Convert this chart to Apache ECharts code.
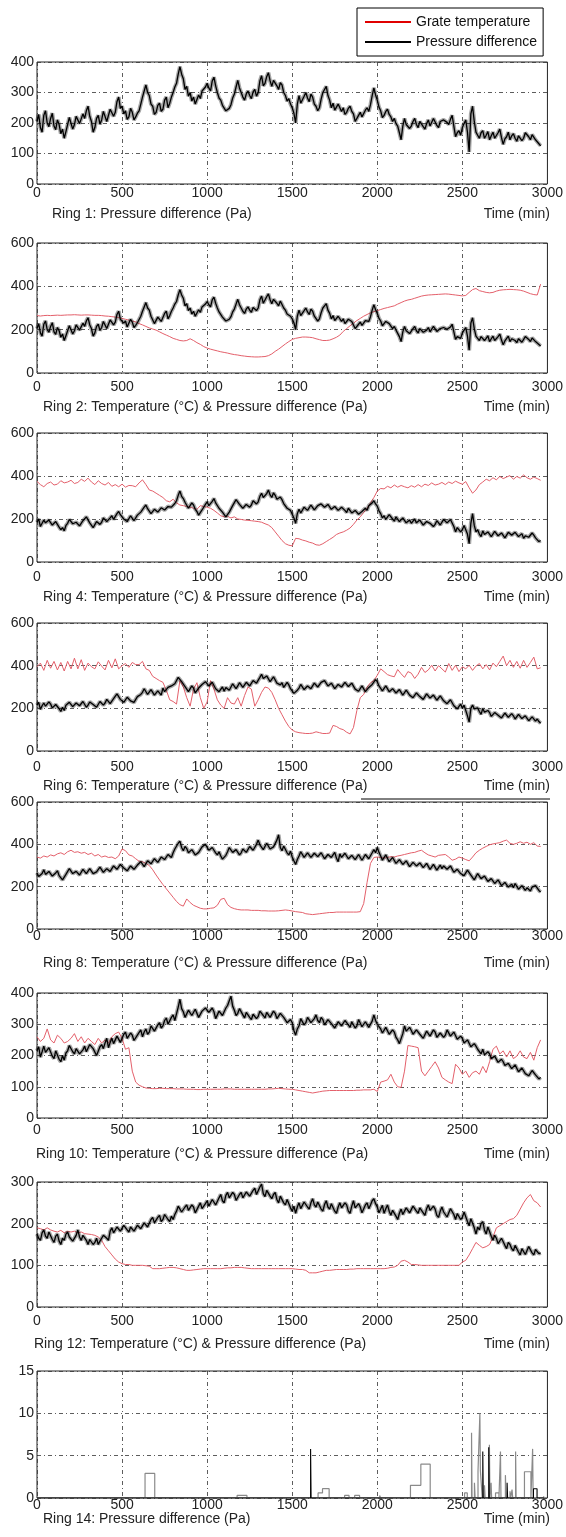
<!DOCTYPE html>
<html>
<head>
<meta charset="utf-8">
<script src="https://cdn.jsdelivr.net/npm/echarts/dist/echarts.min.js"></script>
<style>
html,body{margin:0;padding:0;background:#fff;}
#main{width:566px;height:1537px;}
</style>
</head>
<body>
<div id="main"></div>
<script>
// sampling steps of the read curves (min)
var PRESS_STEP = 10;
var TEMP_STEP = 20;
var xTicks = [0, 500, 1000, 1500, 2000, 2500, 3000];

// Ring 1 pressure difference (Pa), every 10 min
var ring1Press = [
  205,228,185,170,225,240,200,188,215,232,190,178,210,195,165,180,150,172,195,218,
  215,180,195,222,225,198,200,230,215,240,255,222,205,170,185,215,225,196,210,238,
  235,205,210,245,250,222,235,270,285,248,255,230,240,212,220,248,235,210,220,232,
  240,262,285,305,325,300,290,262,255,228,235,258,265,238,245,275,285,250,265,285,
  300,318,330,360,385,360,345,310,320,288,300,272,285,262,260,292,280,305,300,318,
  330,315,305,338,350,322,300,282,275,258,255,240,235,248,260,282,295,318,340,315,
  300,285,275,295,305,290,280,302,310,288,300,338,355,322,330,352,365,338,320,340,
  345,322,310,332,325,300,290,272,280,262,250,232,200,262,290,265,270,288,300,282,
  270,295,285,262,255,240,250,278,300,310,320,290,275,250,265,242,240,262,260,238,
  250,228,235,248,255,238,230,205,210,225,235,220,225,242,250,238,260,290,315,292,
  275,252,240,218,225,238,245,228,220,205,215,198,190,168,145,190,215,195,200,182,
  190,205,215,195,185,205,200,188,180,198,210,190,195,215,210,192,185,205,200,210,
  215,202,195,212,225,190,155,168,175,160,185,198,210,170,105,230,255,205,170,160,
  150,168,175,150,160,172,145,158,170,150,155,168,180,152,130,148,155,170,145,158,
  165,150,140,158,160,142,150,168,170,155,145,162,160,145,140,132,125
];
// Ring 2 pressure difference looks the same as ring 1
var ring2Press = ring1Press;
var ring4Press = [
  185,200,165,180,195,182,175,195,190,172,170,188,185,162,150,160,145,170,180,198,
  195,178,170,185,190,168,175,192,195,210,205,182,175,160,165,188,195,175,185,205,
  200,188,180,205,215,198,200,225,235,220,215,200,205,188,195,215,210,192,200,218,
  210,232,240,255,265,248,245,225,230,245,250,232,235,252,260,242,240,258,265,255,
  250,272,285,310,330,305,295,278,270,250,255,275,265,245,235,218,225,242,250,268,
  280,262,260,282,295,275,270,250,245,232,225,210,215,232,240,262,270,290,285,268,
  260,250,245,268,275,255,265,285,290,270,280,305,320,300,295,318,335,312,300,322,
  310,292,285,302,290,272,265,250,255,240,235,205,180,225,245,228,235,255,260,240,
  245,265,260,242,240,262,255,270,275,255,250,268,265,245,240,258,255,240,235,255,
  250,240,230,250,245,228,220,240,235,222,215,235,230,250,240,262,255,275,285,270,
  260,238,225,205,215,198,200,220,215,200,190,210,205,188,180,205,200,182,190,195,
  180,190,200,182,175,195,190,172,170,188,195,180,180,165,175,192,190,172,180,198,
  195,182,180,198,190,165,140,160,155,140,150,170,165,130,85,180,225,170,140,150,
  130,118,145,128,120,140,135,118,125,142,140,122,115,135,130,112,120,138,140,125,
  120,138,135,118,125,132,110,122,130,115,120,135,125,112,110,95,100
];
var ring6Press = [
  215,228,195,212,225,210,205,230,220,202,200,218,225,198,185,205,190,215,210,228,
  225,208,205,225,230,212,210,232,225,205,215,230,235,218,220,205,210,232,230,215,
  225,242,240,222,225,245,250,268,265,242,245,228,235,252,255,235,240,228,235,255,
  250,265,275,292,290,265,270,288,285,262,265,282,280,262,295,278,275,298,290,305,
  300,315,320,345,350,325,320,302,300,278,285,305,295,272,275,295,290,312,305,325,
  320,305,300,322,315,292,295,278,285,300,280,298,300,285,290,315,310,292,305,320,
  315,298,300,322,320,305,310,330,335,318,325,345,360,340,335,352,345,325,330,348,
  340,318,325,310,320,298,305,322,310,292,290,270,265,285,295,312,305,288,290,305,
  310,292,300,318,320,300,305,322,315,330,325,305,300,318,310,292,295,312,315,300,
  305,322,320,302,300,318,310,290,295,280,285,305,300,278,280,298,290,312,320,335,
  325,305,300,282,285,305,300,278,275,292,290,272,270,288,285,262,265,285,280,262,
  270,250,255,272,275,255,260,242,250,268,265,248,245,262,260,238,240,258,250,235,
  240,222,225,240,235,212,215,198,205,220,200,215,210,165,135,200,215,198,190,202,
  185,172,200,182,175,190,180,162,165,180,185,168,170,155,160,178,175,158,160,175,
  165,150,155,172,170,152,150,165,160,142,145,160,155,140,150,138,130
];
var ring8Press = [
  265,248,240,262,280,258,250,272,270,250,245,265,275,252,250,232,235,258,265,285,
  280,262,255,272,275,255,260,282,285,262,265,285,280,262,255,270,275,292,285,268,
  270,285,290,272,275,298,300,282,285,305,310,288,290,275,280,298,300,282,285,302,
  295,318,310,295,300,322,325,308,315,332,335,315,320,340,345,328,330,352,350,338,
  360,378,385,405,415,385,370,390,380,360,355,375,370,350,345,362,365,388,380,400,
  395,372,365,385,380,360,350,365,345,330,325,348,365,385,380,362,355,375,370,350,
  360,378,385,362,370,390,395,372,375,400,420,398,395,375,380,405,400,378,370,388,
  395,420,445,385,370,392,385,360,350,368,340,322,305,328,345,365,360,338,340,360,
  355,338,335,358,365,342,340,360,355,332,330,352,360,338,345,362,335,318,355,338,
  340,358,360,332,325,348,350,328,335,352,345,325,330,352,350,332,340,360,375,360,
  385,362,345,325,330,350,345,318,320,338,330,310,305,328,330,305,300,322,315,295,
  300,315,320,298,290,312,310,290,295,310,305,282,285,305,300,278,290,302,285,298,
  300,282,280,298,290,268,265,282,285,262,270,252,255,278,275,255,250,232,240,262,
  255,238,230,250,245,225,220,238,235,215,210,232,225,205,200,220,215,198,205,212,
  195,215,210,188,185,205,200,182,195,188,180,198,190,205,200,182,175
];
var ring10Press = [
  215,228,195,212,230,210,205,225,220,198,190,215,210,188,180,200,185,208,215,232,
  235,212,205,222,225,205,200,218,230,212,215,235,240,222,220,200,205,228,235,222,
  240,255,225,242,255,238,240,262,260,242,245,268,275,255,255,272,265,248,250,265,
  270,282,260,275,285,268,275,295,295,278,280,298,305,288,295,312,320,300,305,322,
  330,312,310,355,380,350,340,322,325,345,350,328,330,348,345,322,320,342,340,352,
  355,338,335,352,340,318,320,342,345,328,330,352,360,375,390,358,345,328,335,350,
  345,330,320,338,340,322,315,332,335,318,325,342,345,328,320,338,340,322,325,342,
  335,318,315,335,340,322,325,305,300,315,305,280,265,285,295,318,315,298,305,322,
  320,305,300,318,330,312,305,322,315,298,295,315,320,302,305,288,290,308,310,295,
  300,312,315,298,290,308,305,288,295,315,310,292,290,308,305,290,285,310,330,312,
  300,292,285,272,270,290,285,268,265,282,275,258,250,238,240,270,295,278,275,290,
  280,268,265,282,285,268,270,255,260,278,280,262,265,282,275,258,255,272,270,258,
  265,282,280,262,260,275,270,252,250,262,255,240,235,250,245,228,225,238,230,220,
  215,205,220,202,200,212,205,190,185,198,195,178,175,188,180,168,165,175,170,158,
  160,170,165,148,150,160,155,142,145,135,140,152,150,138,135,125,130
];
var ring12Press = [
  175,165,160,178,185,170,165,180,180,162,155,170,175,158,150,165,160,175,180,168,
  170,158,155,172,185,168,160,172,175,160,150,162,165,150,155,165,150,158,165,172,
  175,165,160,182,190,178,180,192,195,182,185,196,200,185,180,192,195,182,185,196,
  200,188,190,202,205,192,195,210,215,202,200,215,220,205,210,222,225,210,205,218,
  210,222,230,242,240,228,225,240,245,232,230,245,240,226,225,242,250,236,235,248,
  255,242,240,258,260,245,245,262,270,255,250,268,275,262,260,275,270,256,255,270,
  275,262,260,276,280,266,265,280,285,270,270,288,295,272,265,280,280,266,260,270,
  275,258,250,266,265,250,245,258,255,238,230,242,225,240,250,236,240,252,255,240,
  235,250,260,245,240,252,250,235,230,246,255,240,235,248,245,230,225,240,250,238,
  235,250,245,230,225,242,255,238,235,248,240,226,230,245,250,236,245,255,260,248,
  240,226,230,244,225,236,245,230,220,232,235,218,210,225,235,222,225,238,240,226,
  230,242,245,230,225,238,240,226,220,236,245,232,230,242,235,220,215,230,240,228,
  230,216,220,236,240,222,210,224,225,210,215,228,225,205,195,212,210,190,175,192,
  185,200,205,185,175,192,190,170,160,172,165,152,150,165,165,148,140,155,150,140,
  135,148,150,132,125,140,140,126,130,145,145,130,125,138,140,128,130
];

// grate temperature (degC), every 20 min
var ring2Temp = [
  265,263,265,266,265,266,267,266,267,268,
  268,269,268,267,268,268,267,266,266,265,
  263,262,260,258,256,252,248,244,240,236,
  228,222,215,208,203,198,190,182,175,168,
  160,155,150,148,150,158,150,140,132,122,
  115,110,106,102,98,95,92,88,85,83,
  80,78,76,75,74,74,75,76,80,88,
  100,110,122,134,145,155,160,163,166,166,
  165,163,158,154,150,150,152,158,165,175,
  192,205,218,230,242,252,262,270,278,283,
  288,293,298,302,306,310,318,325,332,337,
  340,345,350,355,358,360,361,362,363,364,
  365,364,362,360,358,356,358,372,385,390,
  380,376,372,370,372,378,382,384,385,386,
  385,384,382,378,372,366,362,360,410
];
var ring4Temp = [
  375,360,350,365,372,358,362,378,368,372,
  380,365,370,385,375,390,372,360,378,365,
  358,370,352,360,350,362,348,356,355,350,
  368,382,360,335,330,320,310,300,285,280,
  292,275,265,262,258,255,250,245,262,258,
  255,250,240,228,215,210,212,205,210,200,
  198,195,194,192,190,188,185,178,172,160,
  140,120,100,85,78,75,110,108,102,98,
  92,88,80,78,85,95,105,115,128,135,
  140,148,158,175,195,210,230,250,275,300,
  330,342,340,352,345,358,348,356,350,345,
  355,348,360,350,362,356,368,358,362,370,
  360,372,365,376,368,362,374,345,320,335,
  360,372,385,378,392,382,398,388,395,402,
  385,398,390,405,392,385,395,388,380
];
var ring6Temp = [
  395,412,378,425,388,420,380,415,375,420,
  385,435,385,428,378,412,395,385,418,398,
  380,425,390,432,385,400,410,392,415,405,
  405,420,385,378,350,340,330,322,285,240,
  232,220,330,300,250,210,290,320,250,200,
  230,330,290,240,215,200,250,225,220,250,
  210,260,300,290,210,240,275,300,295,275,
  240,200,170,140,115,98,90,86,84,82,
  82,84,90,86,82,82,84,120,115,105,
  100,88,80,110,190,250,265,300,320,330,
  355,385,372,358,352,348,382,362,345,372,
  365,340,360,392,368,380,402,375,400,385,
  370,410,378,402,372,395,385,402,378,398,
  410,385,405,380,412,395,420,445,400,425,
  392,420,388,425,392,415,440,385,390
];
var ring8Temp = [
  340,335,345,340,350,345,355,360,352,365,
  372,362,365,358,362,352,358,345,352,340,
  345,338,340,332,345,378,370,350,345,332,
  320,318,310,300,280,255,232,210,190,170,
  150,130,115,108,142,125,112,105,98,95,
  95,98,100,112,140,145,115,102,96,92,
  90,90,90,88,88,88,86,86,85,85,
  85,86,88,90,88,85,82,80,78,72,
  70,68,70,72,74,76,78,78,80,80,
  80,80,80,80,80,82,120,220,310,338,
  340,338,335,338,342,340,345,348,352,356,
  360,362,368,372,360,350,345,340,348,350,
  352,340,325,330,340,335,328,322,340,360,
  372,382,390,398,402,405,408,415,420,405,
  400,405,412,405,410,400,408,392,390
];
var ring10Temp = [
  260,245,255,285,250,240,265,255,240,245,
  255,270,245,260,240,255,245,235,255,240,
  250,240,260,270,275,255,220,225,150,115,
  105,100,96,95,94,94,95,95,94,94,
  94,93,93,93,92,92,92,91,91,92,
  92,92,92,92,92,93,93,93,92,92,
  92,92,92,92,92,92,92,92,93,93,
  94,95,94,93,92,92,90,88,86,84,
  82,80,82,84,86,87,88,88,88,88,
  88,88,88,88,89,89,90,90,90,92,
  85,115,118,122,140,115,100,98,150,232,
  230,228,225,150,135,150,165,180,160,130,
  122,115,110,172,160,140,150,130,145,150,
  140,165,145,180,220,230,205,215,195,215,
  190,198,215,195,190,210,185,225,250
];
var ring12Temp = [
  190,188,185,190,185,182,180,184,178,182,
  180,182,178,180,176,175,174,172,168,160,
  145,135,125,115,108,104,102,102,100,100,
  100,100,99,98,92,92,92,93,94,95,
  95,94,92,90,88,88,89,90,91,92,
  92,92,92,92,92,93,94,94,95,95,
  95,94,93,92,92,92,92,92,92,92,
  92,92,92,92,92,92,91,90,90,88,
  82,82,82,84,86,88,88,89,90,90,
  90,90,91,91,92,92,92,92,92,92,
  92,92,92,93,95,96,100,110,112,108,
  102,102,101,100,100,100,100,100,100,100,
  100,100,100,100,100,108,112,125,140,155,
  148,142,145,150,168,190,195,200,205,210,
  212,220,235,250,262,270,255,250,240
];
// Ring 14: [time, value] step edges, grey and black traces
var ring14Grey = [
  [0,0],[635,2.9],[692,0],[1176,0.3],[1234,0],[1652,0.6],[1678,1.1],[1717,0],
  [1808,0.3],[1834,0],[1867,0.3],[1896,0],[2014,0.3],[2020,0],[2195,1.5],[2256,4.0],
  [2311,0],[2432,0.2],[2436,0],[2513,0.6],[2529,0],[2554,7.7],[2557,0],[2571,1.8],
  [2575,0],[2592,3.2],[2603,10],[2606,3.2],[2617,0],[2630,1.5],[2634,0],[2659,6.3],
  [2662,0],[2669,1.8],[2672,0],[2695,0.6],[2715,0],[2724,5.5],[2727,0],[2753,2.7],
  [2757,0],[2780,0.8],[2784,0],[2792,1.0],[2796,0],[2813,5.5],[2816,0],[2865,3.1],
  [2903,0],[2913,5.8],[2916,0],[2978,0.2],[2982,0]
];
var ring14Black = [
  [0,0],[1608,5.8],[1611,0],[2620,5.5],[2623,0],[2655,6.0],[2658,0],
  [2763,1.8],[2766,0],[2918,1.1],[2939,0],[2980,0]
];

var FONT = 'Liberation Sans, Arial, sans-serif';
var TEMP_LABEL = 'Temperature (\u00b0C) & Pressure difference (Pa)';

var panels = [
  {top:62,   bottom:184,  max:400, itv:100, press:ring1Press,  temp:null,       title:'Ring 1: Pressure difference (Pa)', tl:52, ty:207, lm:2},
  {top:243,  bottom:373,  max:600, itv:200, press:ring2Press,  temp:ring2Temp,  title:'Ring 2: ' + TEMP_LABEL,  tl:43, ty:400, lm:7},
  {top:433,  bottom:562,  max:600, itv:200, press:ring4Press,  temp:ring4Temp,  title:'Ring 4: ' + TEMP_LABEL,  tl:43, ty:590, lm:8},
  {top:623,  bottom:751,  max:600, itv:200, press:ring6Press,  temp:ring6Temp,  title:'Ring 6: ' + TEMP_LABEL,  tl:43, ty:779, lm:9},
  {top:802,  bottom:929,  max:600, itv:200, press:ring8Press,  temp:ring8Temp,  title:'Ring 8: ' + TEMP_LABEL,  tl:43, ty:956, lm:0},
  {top:993,  bottom:1118, max:400, itv:100, press:ring10Press, temp:ring10Temp, title:'Ring 10: ' + TEMP_LABEL, tl:36, ty:1147, lm:5},
  {top:1182, bottom:1307, max:300, itv:100, press:ring12Press, temp:ring12Temp, title:'Ring 12: ' + TEMP_LABEL, tl:34, ty:1337, lm:7},
  {top:1371, bottom:1498, max:15,  itv:5,   press:null,        temp:null,       title:'Ring 14: Pressure difference (Pa)', tl:43, ty:1512, lm:0}
];

function toPairs(arr, step) {
  return arr.map(function(v, i) { return [i * step, v]; });
}

var gridDash = {color:'#333', width:0.8, type:[4,3,1,3]};
var grids = [], xAxes = [], yAxes = [], series = [], titles = [];

panels.forEach(function(p, i) {
  grids.push({left:37, width:512, top:p.top, height:p.bottom - p.top,
    show:true, borderColor:'#222', borderWidth:1, backgroundColor:'transparent'});
  xAxes.push({gridIndex:i, type:'value', min:xTicks[0], max:xTicks[xTicks.length - 1], interval:500,
    axisLine:{show:false}, axisTick:{show:false},
    splitLine:{show:true, lineStyle:gridDash},
    axisLabel:{fontSize:14, color:'#222', fontFamily:FONT, margin:p.lm, showMinLabel:true, showMaxLabel:true,
      formatter:function(v) { return String(v); }}});
  yAxes.push({gridIndex:i, type:'value', min:0, max:p.max, interval:p.itv,
    axisLine:{show:false}, axisTick:{show:false},
    splitLine:{show:true, lineStyle:gridDash},
    axisLabel:{fontSize:14, color:'#222', fontFamily:FONT, margin:3}});

  if (p.temp) {
    series.push({name:'Grate temperature', type:'line', xAxisIndex:i, yAxisIndex:i,
      data:toPairs(p.temp, TEMP_STEP), showSymbol:false, symbol:'none', silent:true,
      itemStyle:{color:'#e00000'}, lineStyle:{color:'#e4606b', width:1}, z:2});
  }
  if (p.press) {
    // grey halo under the noisy black trace
    series.push({name:'band', type:'line', xAxisIndex:i, yAxisIndex:i,
      data:toPairs(p.press, PRESS_STEP), showSymbol:false, symbol:'none', silent:true,
      lineStyle:{color:'rgba(0,0,0,0.35)', width:4}, z:3});
    series.push({name:'Pressure difference', type:'line', xAxisIndex:i, yAxisIndex:i,
      data:toPairs(p.press, PRESS_STEP), showSymbol:false, symbol:'none', silent:true,
      itemStyle:{color:'#000'}, lineStyle:{color:'#000', width:1.3}, z:4});
  }
  if (i === 7) {
    series.push({name:'r14grey', type:'line', step:'end', xAxisIndex:i, yAxisIndex:i,
      data:ring14Grey, showSymbol:false, symbol:'none', silent:true,
      lineStyle:{color:'#8a8a8a', width:1.2}, z:3});
    series.push({name:'r14black', type:'line', step:'end', xAxisIndex:i, yAxisIndex:i,
      data:ring14Black, showSymbol:false, symbol:'none', silent:true,
      lineStyle:{color:'#000', width:1.1}, z:4});
  }

  titles.push({text:p.title, left:p.tl, top:p.ty, padding:0,
    textStyle:{fontSize:14, fontWeight:'normal', color:'#222', fontFamily:FONT}});
  titles.push({text:'Time (min)', right:16, top:p.ty, padding:0,
    textStyle:{fontSize:14, fontWeight:'normal', color:'#222', fontFamily:FONT}});
});

var chart = echarts.init(document.getElementById('main'), null, {renderer:'canvas'});
chart.setOption({
  animation:false,
  backgroundColor:'#fff',
  title:titles,
  legend:{
    orient:'vertical', left:357, top:8,
    padding:[7,6,7,8], itemGap:6, itemWidth:46, itemHeight:2, icon:'rect',
    borderColor:'#000', borderWidth:1, backgroundColor:'#fff',
    textStyle:{fontSize:14, color:'#111', fontFamily:FONT},
    data:[
      {name:'Grate temperature', itemStyle:{color:'#e00000'}},
      {name:'Pressure difference', itemStyle:{color:'#000'}}
    ]
  },
  grid:grids,
  xAxis:xAxes,
  yAxis:yAxes,
  series:series,
  // stray rule seen under ring 6 caption in the scan
  graphic:[{type:'line', shape:{x1:361, y1:799, x2:550, y2:799}, style:{stroke:'#000', lineWidth:1}}]
});
</script>
</body>
</html>
